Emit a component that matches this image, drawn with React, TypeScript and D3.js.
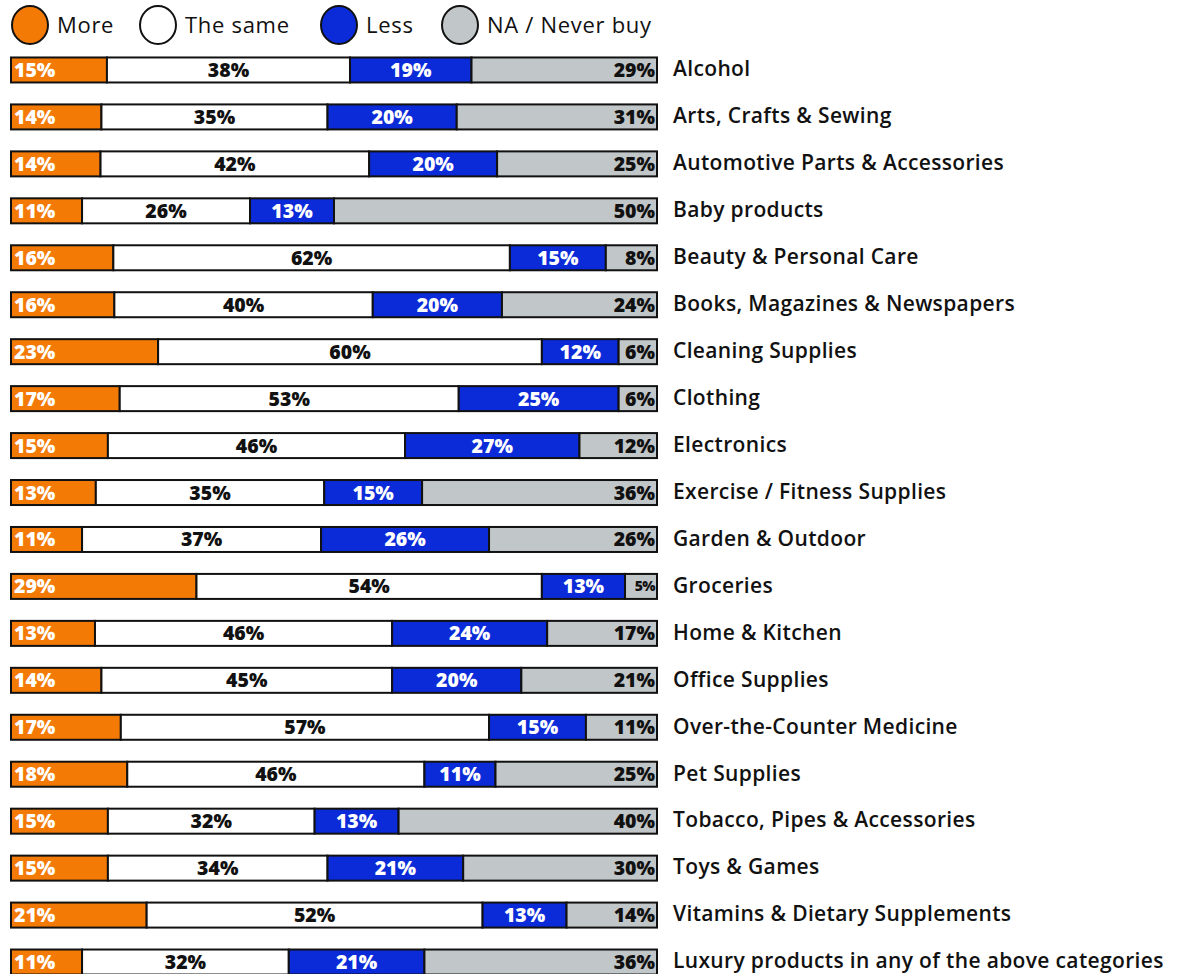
import { useEffect, useRef } from 'react'
import * as d3 from 'd3'

const categories = [
  'Alcohol',
  'Arts, Crafts & Sewing',
  'Automotive Parts & Accessories',
  'Baby products',
  'Beauty & Personal Care',
  'Books, Magazines & Newspapers',
  'Cleaning Supplies',
  'Clothing',
  'Electronics',
  'Exercise / Fitness Supplies',
  'Garden & Outdoor',
  'Groceries',
  'Home & Kitchen',
  'Office Supplies',
  'Over-the-Counter Medicine',
  'Pet Supplies',
  'Tobacco, Pipes & Accessories',
  'Toys & Games',
  'Vitamins & Dietary Supplements',
  'Luxury products in any of the above categories',
]

const more = [15, 14, 14, 11, 16, 16, 23, 17, 15, 13, 11, 29, 13, 14, 17, 18, 15, 15, 21, 11]
const same = [38, 35, 42, 26, 62, 40, 60, 53, 46, 35, 37, 54, 46, 45, 57, 46, 32, 34, 52, 32]
const less = [19, 20, 20, 13, 15, 20, 12, 25, 27, 15, 26, 13, 24, 20, 15, 11, 13, 21, 13, 21]
const never = [29, 31, 25, 50, 8, 24, 6, 6, 12, 36, 26, 5, 17, 21, 11, 25, 40, 30, 14, 36]

const seriesNames = ['More', 'The same', 'Less', 'NA / Never buy']
const colors = ['#F47A06', '#FFFFFF', '#0B2BD8', '#C1C6C8']
const textColors = ['#fff', '#111', '#fff', '#111']

export default function App() {
  const svgRef = useRef<SVGSVGElement>(null)

  useEffect(() => {
    if (!svgRef.current) return
    const svg = d3.select(svgRef.current)
    svg.selectAll('*').remove()

    const font = "'Open Sans', 'Noto Sans', sans-serif"
    const barLeft = 11
    const barRight = 657
    const barH = 25
    const pitch = 46.95

    const y = d3.scaleBand()
      .domain(categories)
      .range([46.5, 46.5 + pitch * categories.length])
      .paddingInner(0)

    // legend
    const legendX = [30, 158, 339, 460]
    const legend = svg.append('g')
    seriesNames.forEach((name, i) => {
      legend.append('ellipse')
        .attr('cx', legendX[i])
        .attr('cy', 25)
        .attr('rx', 18)
        .attr('ry', 19)
        .attr('fill', colors[i])
        .attr('stroke', '#111')
        .attr('stroke-width', 2)
      legend.append('text')
        .attr('x', legendX[i] + 27)
        .attr('y', 25)
        .attr('dy', '0.36em')
        .attr('font-family', font)
        .attr('font-size', 22)
        .attr('font-weight', 500)
        .attr('letter-spacing', 0.7)
        .attr('fill', '#111')
        .text(name)
    })

    const rows = categories.map((c, i) => ({
      name: c,
      values: [more[i], same[i], less[i], never[i]],
    }))

    const g = svg.append('g')

    rows.forEach(row => {
      const total = d3.sum(row.values)
      const x = d3.scaleLinear().domain([0, total]).range([barLeft, barRight])
      const cy = y(row.name)! + y.bandwidth() / 2
      const top = cy - barH / 2
      let acc = 0
      row.values.forEach((v, j) => {
        const x0 = x(acc)
        const x1 = x(acc + v)
        acc += v
        g.append('rect')
          .attr('x', x0)
          .attr('y', top)
          .attr('width', x1 - x0)
          .attr('height', barH)
          .attr('fill', colors[j])
          .attr('stroke', '#111')
          .attr('stroke-width', 2)

        const small = v <= 5
        let tx = (x0 + x1) / 2
        let anchor = 'middle'
        if (j === 0) { tx = x0 + 3; anchor = 'start' }
        if (j === 3) { tx = x1 - 2; anchor = 'end' }
        g.append('text')
          .attr('x', tx)
          .attr('y', cy)
          .attr('dy', '0.36em')
          .attr('text-anchor', anchor)
          .attr('font-family', font)
          .attr('font-size', small ? 14 : 19.5)
          .attr('font-weight', 800)
          .attr('letter-spacing', small ? -0.6 : 0)
          .attr('fill', textColors[j])
          .text(`${v}%`)
      })

      g.append('text')
        .attr('x', 673)
        .attr('y', cy)
        .attr('dy', '0.3em')
        .attr('font-family', font)
        .attr('font-size', 21)
        .attr('font-weight', 600)
        .attr('letter-spacing', 0.35)
        .attr('fill', '#111')
        .text(row.name)
    })
  }, [])

  return (
    <svg
      ref={svgRef}
      width={1178}
      height={974}
      style={{ position: 'absolute', left: 0, top: 0, background: '#fff' }}
    />
  )
}
